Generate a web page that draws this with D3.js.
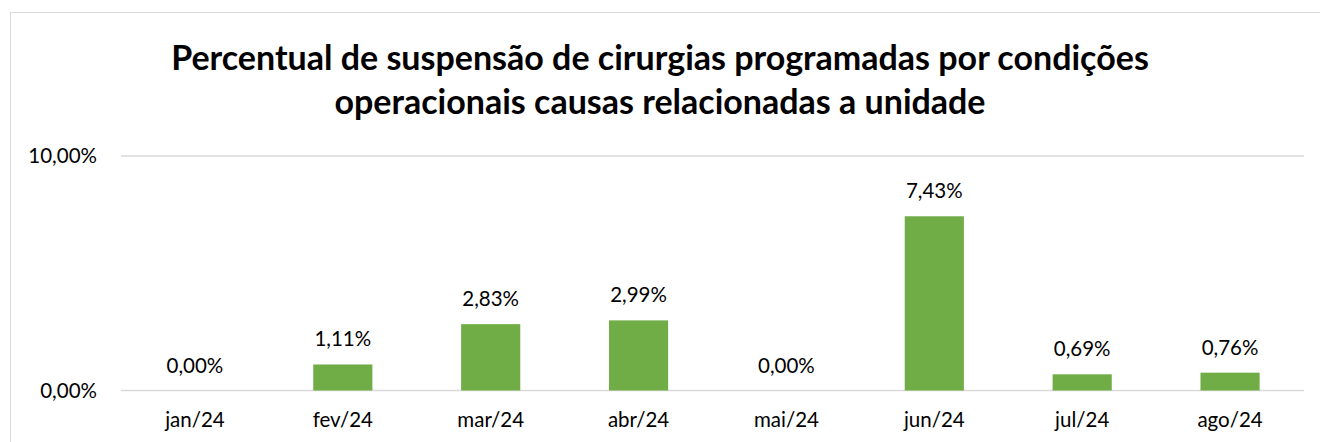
<!DOCTYPE html>
<html>
<head>
<meta charset="utf-8">
<script src="https://cdn.jsdelivr.net/npm/d3@7"></script>
<style>
  body { margin: 0; background: #fff; }
  svg { font-family: Lato, "Open Sans", sans-serif; }
</style>
</head>
<body>
<svg id="chart" width="1320" height="442"></svg>
<script>
const months = ["jan/24", "fev/24", "mar/24", "abr/24", "mai/24", "jun/24", "jul/24", "ago/24"];
const values = [0.00, 1.11, 2.83, 2.99, 0.00, 7.43, 0.69, 0.76];
const yTicks = [0, 10];
const titleLines = [
    "Percentual de suspensão de cirurgias programadas por condições",
    "operacionais causas relacionadas a unidade"
];

const fmt = v => v.toFixed(2).replace(".", ",") + "%";

const svg = d3.select("#chart");

// chart border
svg.append("rect")
    .attr("x", 10.5).attr("y", 12.5)
    .attr("width", 1330).attr("height", 460)
    .attr("fill", "#fff")
    .attr("stroke", "#d9d9d9");

const plotLeft = 121, plotRight = 1304, plotTop = 156, plotBottom = 390.5;

const x = d3.scaleBand()
    .domain(months)
    .range([plotLeft, plotRight])
    .paddingInner(0.6)
    .paddingOuter(0.3);

const y = d3.scaleLinear()
    .domain([0, 10])
    .range([plotBottom, plotTop]);

// title
svg.append("g")
    .selectAll("text")
    .data(titleLines)
    .join("text")
    .attr("x", 660)
    .attr("y", (d, i) => 70 + i * 44)
    .attr("text-anchor", "middle")
    .attr("font-size", 34)
    .attr("font-weight", "bold")
    .attr("fill", "#000")
    .text(d => d);

// gridlines
svg.append("g")
    .selectAll("line")
    .data(yTicks)
    .join("line")
    .attr("x1", plotLeft).attr("x2", plotRight)
    .attr("y1", d => y(d)).attr("y2", d => y(d))
    .attr("stroke", "#d9d9d9")
    .attr("stroke-width", 1.5);

// y labels
svg.append("g")
    .selectAll("text")
    .data(yTicks)
    .join("text")
    .attr("x", 97)
    .attr("y", d => y(d))
    .attr("dy", "0.36em")
    .attr("text-anchor", "end")
    .attr("font-size", 20.5)
    .attr("fill", "#000")
    .text(fmt);

// bars
svg.append("g")
    .selectAll("rect")
    .data(values)
    .join("rect")
    .attr("x", (d, i) => x(months[i]))
    .attr("width", x.bandwidth())
    .attr("y", d => y(d))
    .attr("height", d => y(0) - y(d))
    .attr("fill", "#70ad47");

// data labels
svg.append("g")
    .selectAll("text")
    .data(values)
    .join("text")
    .attr("x", (d, i) => x(months[i]) + x.bandwidth() / 2)
    .attr("y", d => y(d) - 18)
    .attr("text-anchor", "middle")
    .attr("font-size", 20.5)
    .attr("fill", "#000")
    .text(fmt);

// x labels
svg.append("g")
    .selectAll("text")
    .data(months)
    .join("text")
    .attr("x", d => x(d) + x.bandwidth() / 2)
    .attr("y", 427)
    .attr("text-anchor", "middle")
    .attr("font-size", 20.5)
    .attr("fill", "#000")
    .text(d => d);
</script>
</body>
</html>
